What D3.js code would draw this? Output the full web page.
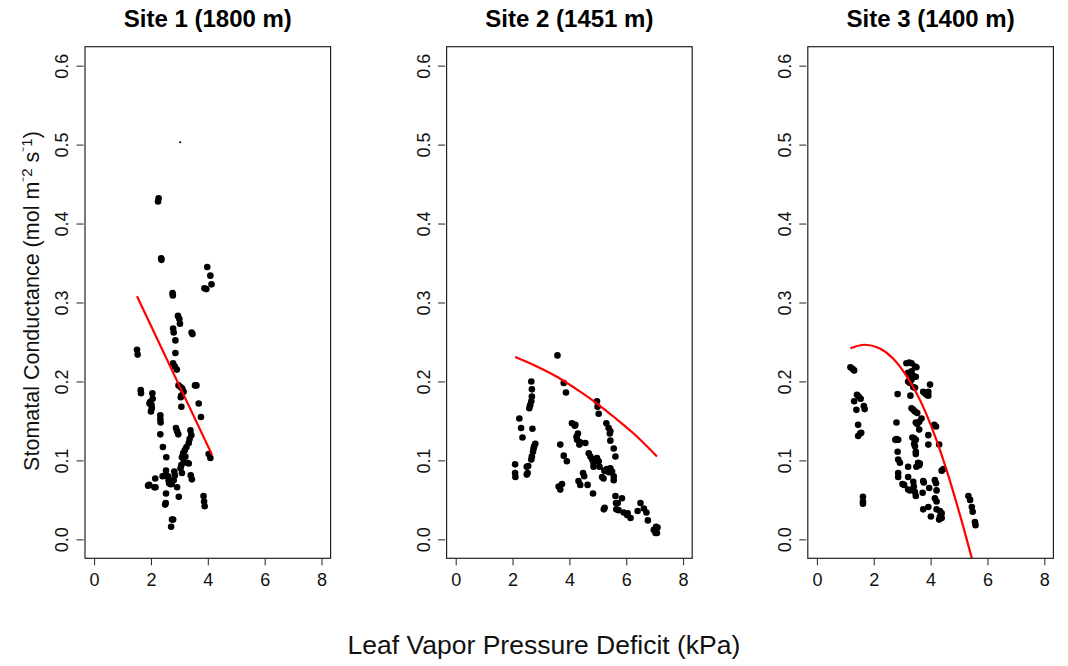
<!DOCTYPE html>
<html>
<head>
<meta charset="utf-8">
<script src="https://cdn.jsdelivr.net/npm/d3@7"></script>
<style>
  body { margin: 0; background: #fff; }
  svg { display: block; font-family: "Liberation Sans", Arial, sans-serif; }
</style>
</head>
<body>
<div id="chart"></div>
<script>
// panel titles
var site_titles = ['Site 1 (1800 m)', 'Site 2 (1451 m)', 'Site 3 (1400 m)'];

// tick values
var x_ticks = [0, 2, 4, 6, 8];
var y_ticks = [0, 0.1, 0.2, 0.3, 0.4, 0.5, 0.6];

// points [VPD, gs]
var site1_points = [
  [1.51,0.240],[1.53,0.234],[1.64,0.189],[1.65,0.185],
  [1.97,0.174],[2.05,0.185],[2.06,0.178],[2.02,0.170],[2.00,0.162],[2.03,0.166],[1.95,0.172],
  [2.33,0.157],[2.33,0.152],[2.34,0.148],[2.33,0.133],[2.42,0.117],[2.54,0.104],
  [2.53,0.087],[2.50,0.081],[2.41,0.080],[2.15,0.077],[2.12,0.066],[2.16,0.066],[1.94,0.069],[1.90,0.068],
  [2.53,0.058],[2.52,0.046],[2.50,0.044],
  [2.62,0.075],[2.64,0.071],[2.68,0.070],[2.73,0.070],[2.80,0.075],[2.60,0.080],
  [2.82,0.086],[2.84,0.081],[2.92,0.066],[2.98,0.054],
  [2.78,0.025],[2.74,0.025],[2.71,0.016],
  [2.27,0.432],[2.25,0.428],[2.36,0.356],[2.37,0.354],
  [3.98,0.345],[4.09,0.334],[4.13,0.323],[3.88,0.318],[3.95,0.317],
  [2.76,0.312],[2.77,0.309],[2.95,0.283],[3.00,0.279],[3.02,0.273],
  [2.78,0.267],[2.80,0.262],[2.86,0.252],[2.86,0.236],
  [2.78,0.223],[2.84,0.219],[2.91,0.215],
  [2.97,0.195],[3.04,0.193],[3.10,0.191],[3.15,0.187],[3.07,0.182],[3.05,0.180],
  [3.43,0.262],[3.46,0.260],[3.55,0.195],[3.60,0.195],
  [3.07,0.168],[3.68,0.172],[3.76,0.155],
  [2.88,0.141],[2.92,0.137],[2.96,0.133],
  [3.39,0.138],[3.42,0.132],[3.36,0.127],[3.33,0.122],[3.25,0.117],[3.19,0.113],[3.13,0.109],
  [3.09,0.104],[3.15,0.098],[3.07,0.094],[3.04,0.090],[3.09,0.084],[3.27,0.097],[3.33,0.096],[3.21,0.105],
  [3.40,0.081],[3.44,0.076],[3.85,0.055],[3.87,0.048],[3.89,0.042],
  [4.03,0.108],[4.09,0.103]
];
var site2_points = [
  [2.09,0.095],[2.09,0.084],[2.10,0.079],[2.24,0.153],[2.30,0.141],[2.35,0.129],
  [2.50,0.092],[2.53,0.084],[2.50,0.082],[2.55,0.093],
  [2.66,0.200],[2.68,0.190],[2.68,0.181],[2.66,0.175],[2.62,0.170],[2.59,0.166],[2.70,0.140],
  [2.80,0.121],[2.74,0.115],[2.72,0.111],[2.68,0.105],[2.66,0.101],[2.76,0.118],
  [3.58,0.233],[3.80,0.198],[3.88,0.186],[3.68,0.120],[3.80,0.106],[3.91,0.099],
  [3.62,0.067],[3.68,0.063],[3.74,0.070],
  [4.09,0.147],[4.21,0.145],[4.19,0.144],[4.25,0.130],[4.30,0.134],[4.27,0.126],[4.35,0.120],[4.38,0.123],
  [4.56,0.122],[4.48,0.084],[4.52,0.080],[4.32,0.074],[4.38,0.069],[4.64,0.069],
  [4.68,0.109],[4.74,0.105],[4.80,0.101],[4.85,0.096],[4.85,0.092],[4.83,0.058],
  [4.97,0.175],[4.99,0.168],[5.03,0.159],[4.97,0.103],[5.03,0.099],[5.06,0.092],
  [5.15,0.079],[5.20,0.077],
  [5.30,0.147],[5.38,0.141],[5.44,0.137],[5.42,0.134],[5.44,0.125],[5.56,0.115],[5.62,0.105],
  [5.23,0.087],[5.32,0.089],[5.44,0.090],[5.50,0.086],[5.38,0.085],[5.56,0.080],[5.56,0.075],
  [5.21,0.038],[5.24,0.040],[5.62,0.055],[5.64,0.046],[5.70,0.046],[5.65,0.038],[5.73,0.037],
  [5.85,0.052],[5.91,0.034],[6.03,0.031],[6.15,0.027],[6.05,0.033],
  [6.40,0.036],[6.50,0.046],[6.62,0.039],[6.71,0.034],[6.76,0.024],
  [6.97,0.012],[7.03,0.008],[7.05,0.016],[7.08,0.008],[7.10,0.015]
];
var site3_points = [
  [1.18,0.218],[1.25,0.216],[1.31,0.214],
  [1.31,0.175],[1.39,0.164],[1.41,0.183],[1.47,0.181],[1.54,0.178],[1.65,0.169],[1.68,0.165],
  [1.45,0.145],[1.45,0.131],[1.52,0.134],[1.56,0.135],
  [1.62,0.054],[1.62,0.048],[1.62,0.045],
  [2.84,0.184],[2.80,0.148],[2.76,0.126],[2.80,0.127],[2.86,0.126],
  [2.84,0.111],[2.86,0.101],[2.92,0.097],[2.86,0.084],[2.86,0.079],
  [3.01,0.070],[3.07,0.069],[3.21,0.092],[3.21,0.079],[3.21,0.063],[3.27,0.062],
  [3.39,0.073],[3.41,0.067],[3.45,0.060],[3.48,0.055],
  [3.15,0.223],[3.25,0.224],[3.33,0.223],[3.45,0.219],[3.50,0.218],
  [3.21,0.211],[3.27,0.209],[3.33,0.213],[3.39,0.207],[3.48,0.206],
  [3.21,0.200],[3.27,0.198],[3.33,0.202],[3.39,0.193],[3.45,0.192],[3.29,0.182],
  [3.33,0.166],[3.39,0.164],[3.45,0.162],[3.53,0.160],
  [3.48,0.148],[3.53,0.146],[3.60,0.149],[3.68,0.153],[3.60,0.139],
  [3.36,0.129],[3.42,0.128],[3.48,0.126],[3.42,0.121],[3.45,0.118],[3.48,0.111],[3.48,0.108],
  [3.56,0.097],[3.60,0.094],[3.62,0.096],[3.50,0.092],
  [3.74,0.187],[3.80,0.185],[3.86,0.183],[3.92,0.187],[3.92,0.182],[3.98,0.196],
  [3.92,0.132],[3.92,0.120],[3.74,0.074],[3.76,0.072],[3.72,0.059],
  [3.74,0.038],[3.92,0.041],[3.95,0.065],[4.01,0.029],
  [4.13,0.145],[4.19,0.143],[4.30,0.120],
  [4.15,0.075],[4.19,0.071],[4.21,0.062],[4.15,0.052],[4.21,0.048],
  [4.21,0.038],[4.33,0.036],[4.39,0.033],[4.33,0.029],[4.30,0.025],[4.39,0.027],
  [4.39,0.087],[4.45,0.089],
  [5.33,0.055],[5.39,0.050],[5.45,0.041],[5.48,0.035],[5.56,0.022],[5.58,0.018]
];

// fitted curves, points
var site1_fit = [[1.51,0.308],[4.15,0.107]];
var site2_fit = [[2.09,0.231],[2.8,0.220],[3.56,0.206],[4.3,0.189],[4.97,0.172],[5.6,0.154],[6.26,0.134],[7.08,0.105]];
var site3_fit = [[1.18,0.242],[1.68,0.2465],[2.2,0.242],[2.68,0.229],[3.15,0.207],[3.62,0.177],[4.09,0.137],[4.56,0.088],[5.04,0.030],[5.45,-0.024]];

// odd little mark near the top of panel 1
var site1_stray = [[3.03,0.503]];

var all_points = [site1_points, site2_points, site3_points];
var all_fits   = [site1_fit, site2_fit, site3_fit];
var all_stray  = [site1_stray, [], []];

var width  = 1068,
    height = 666;
var panel_lefts  = [85, 446.6, 807.8];
var panel_width  = 245.6;
var panel_top    = 46.7,
    panel_bottom = 558.3;

var svg = d3.select('#chart')
    .append('svg')
    .attr('width', width)
    .attr('height', height);

var line_col = '#222';

panel_lefts.forEach(function(left, i){
    var scale_x = d3.scaleLinear()
                    .domain([-0.32, 8.32])
                    .range([left, left + panel_width]);
    var scale_y = d3.scaleLinear()
                    .domain([-0.024, 0.624])
                    .range([panel_bottom, panel_top]);

    var g = svg.append('g').attr('class', 'panel-' + (i + 1));

    // clip for the fitted curve
    g.append('clipPath')
     .attr('id', 'clip' + i)
     .append('rect')
     .attr('x', left).attr('y', panel_top)
     .attr('width', panel_width).attr('height', panel_bottom - panel_top);

    // x axis
    var axis_x = d3.axisBottom(scale_x)
                   .tickValues(x_ticks)
                   .tickSize(7)
                   .tickPadding(7.8)
                   .tickFormat(d3.format('d'));
    var gx = g.append('g')
              .attr('transform', 'translate(0,' + panel_bottom + ')')
              .call(axis_x);
    gx.select('.domain').remove();
    gx.selectAll('line').attr('stroke', line_col);
    gx.selectAll('text')
      .attr('fill', '#111')
      .style('font-size', '18px')
      .style('font-family', '"Liberation Sans", Arial, sans-serif');

    // y axis, labels turned
    var axis_y = d3.axisLeft(scale_y)
                   .tickValues(y_ticks)
                   .tickSize(7)
                   .tickFormat(d3.format('.1f'));
    var gy = g.append('g')
              .attr('transform', 'translate(' + (left - 1.5) + ',0)')
              .call(axis_y);
    gy.select('.domain').remove();
    gy.selectAll('line').attr('stroke', line_col);
    gy.selectAll('text')
      .attr('x', 0)
      .attr('y', -15.2)
      .attr('dy', null)
      .attr('transform', 'rotate(-90)')
      .attr('text-anchor', 'middle')
      .attr('fill', '#111')
      .style('font-size', '18px')
      .style('font-family', '"Liberation Sans", Arial, sans-serif');

    // points
    g.append('g')
     .selectAll('circle')
     .data(all_points[i])
     .enter()
     .append('circle')
     .attr('cx', function(d){ return scale_x(d[0]); })
     .attr('cy', function(d){ return scale_y(d[1]); })
     .attr('r', 3.3)
     .attr('fill', '#000');

    g.append('g')
     .selectAll('circle')
     .data(all_stray[i])
     .enter()
     .append('circle')
     .attr('cx', function(d){ return scale_x(d[0]); })
     .attr('cy', function(d){ return scale_y(d[1]); })
     .attr('r', 1.1)
     .attr('fill', '#000');

    // fitted curve
    var fit_line = d3.line()
                     .x(function(d){ return scale_x(d[0]); })
                     .y(function(d){ return scale_y(d[1]); })
                     .curve(d3.curveMonotoneX);
    g.append('path')
     .datum(all_fits[i])
     .attr('d', fit_line)
     .attr('clip-path', 'url(#clip' + i + ')')
     .attr('fill', 'none')
     .attr('stroke', '#ff0000')
     .attr('stroke-width', 2.2);

    // box
    g.append('rect')
     .attr('x', left).attr('y', panel_top)
     .attr('width', panel_width).attr('height', panel_bottom - panel_top)
     .attr('fill', 'none')
     .attr('stroke', line_col)
     .attr('stroke-width', 1.2);

    // title
    g.append('text')
     .attr('x', left + panel_width / 2)
     .attr('y', 26.7)
     .attr('text-anchor', 'middle')
     .style('font-size', '24px')
     .style('font-weight', 'bold')
     .attr('fill', '#000')
     .text(site_titles[i]);
});

// y axis title with superscripts
var ytitle = svg.append('text')
    .attr('transform', 'translate(39,301) rotate(-90)')
    .attr('text-anchor', 'middle')
    .style('font-size', '21.5px')
    .attr('fill', '#111');
ytitle.append('tspan').text('Stomatal Conductance (mol m');
ytitle.append('tspan').attr('dy', -7.5).style('font-size', '15px').text('\u207b2');
ytitle.append('tspan').attr('dy', 7.5).text(' s');
ytitle.append('tspan').attr('dy', -7.5).style('font-size', '15px').text('\u207b1');
ytitle.append('tspan').attr('dy', 7.5).text(')');

// x axis title
svg.append('text')
   .attr('x', 544)
   .attr('y', 654)
   .attr('text-anchor', 'middle')
   .style('font-size', '26.5px')
   .attr('fill', '#111')
   .text('Leaf Vapor Pressure Deficit (kPa)');
</script>
</body>
</html>
